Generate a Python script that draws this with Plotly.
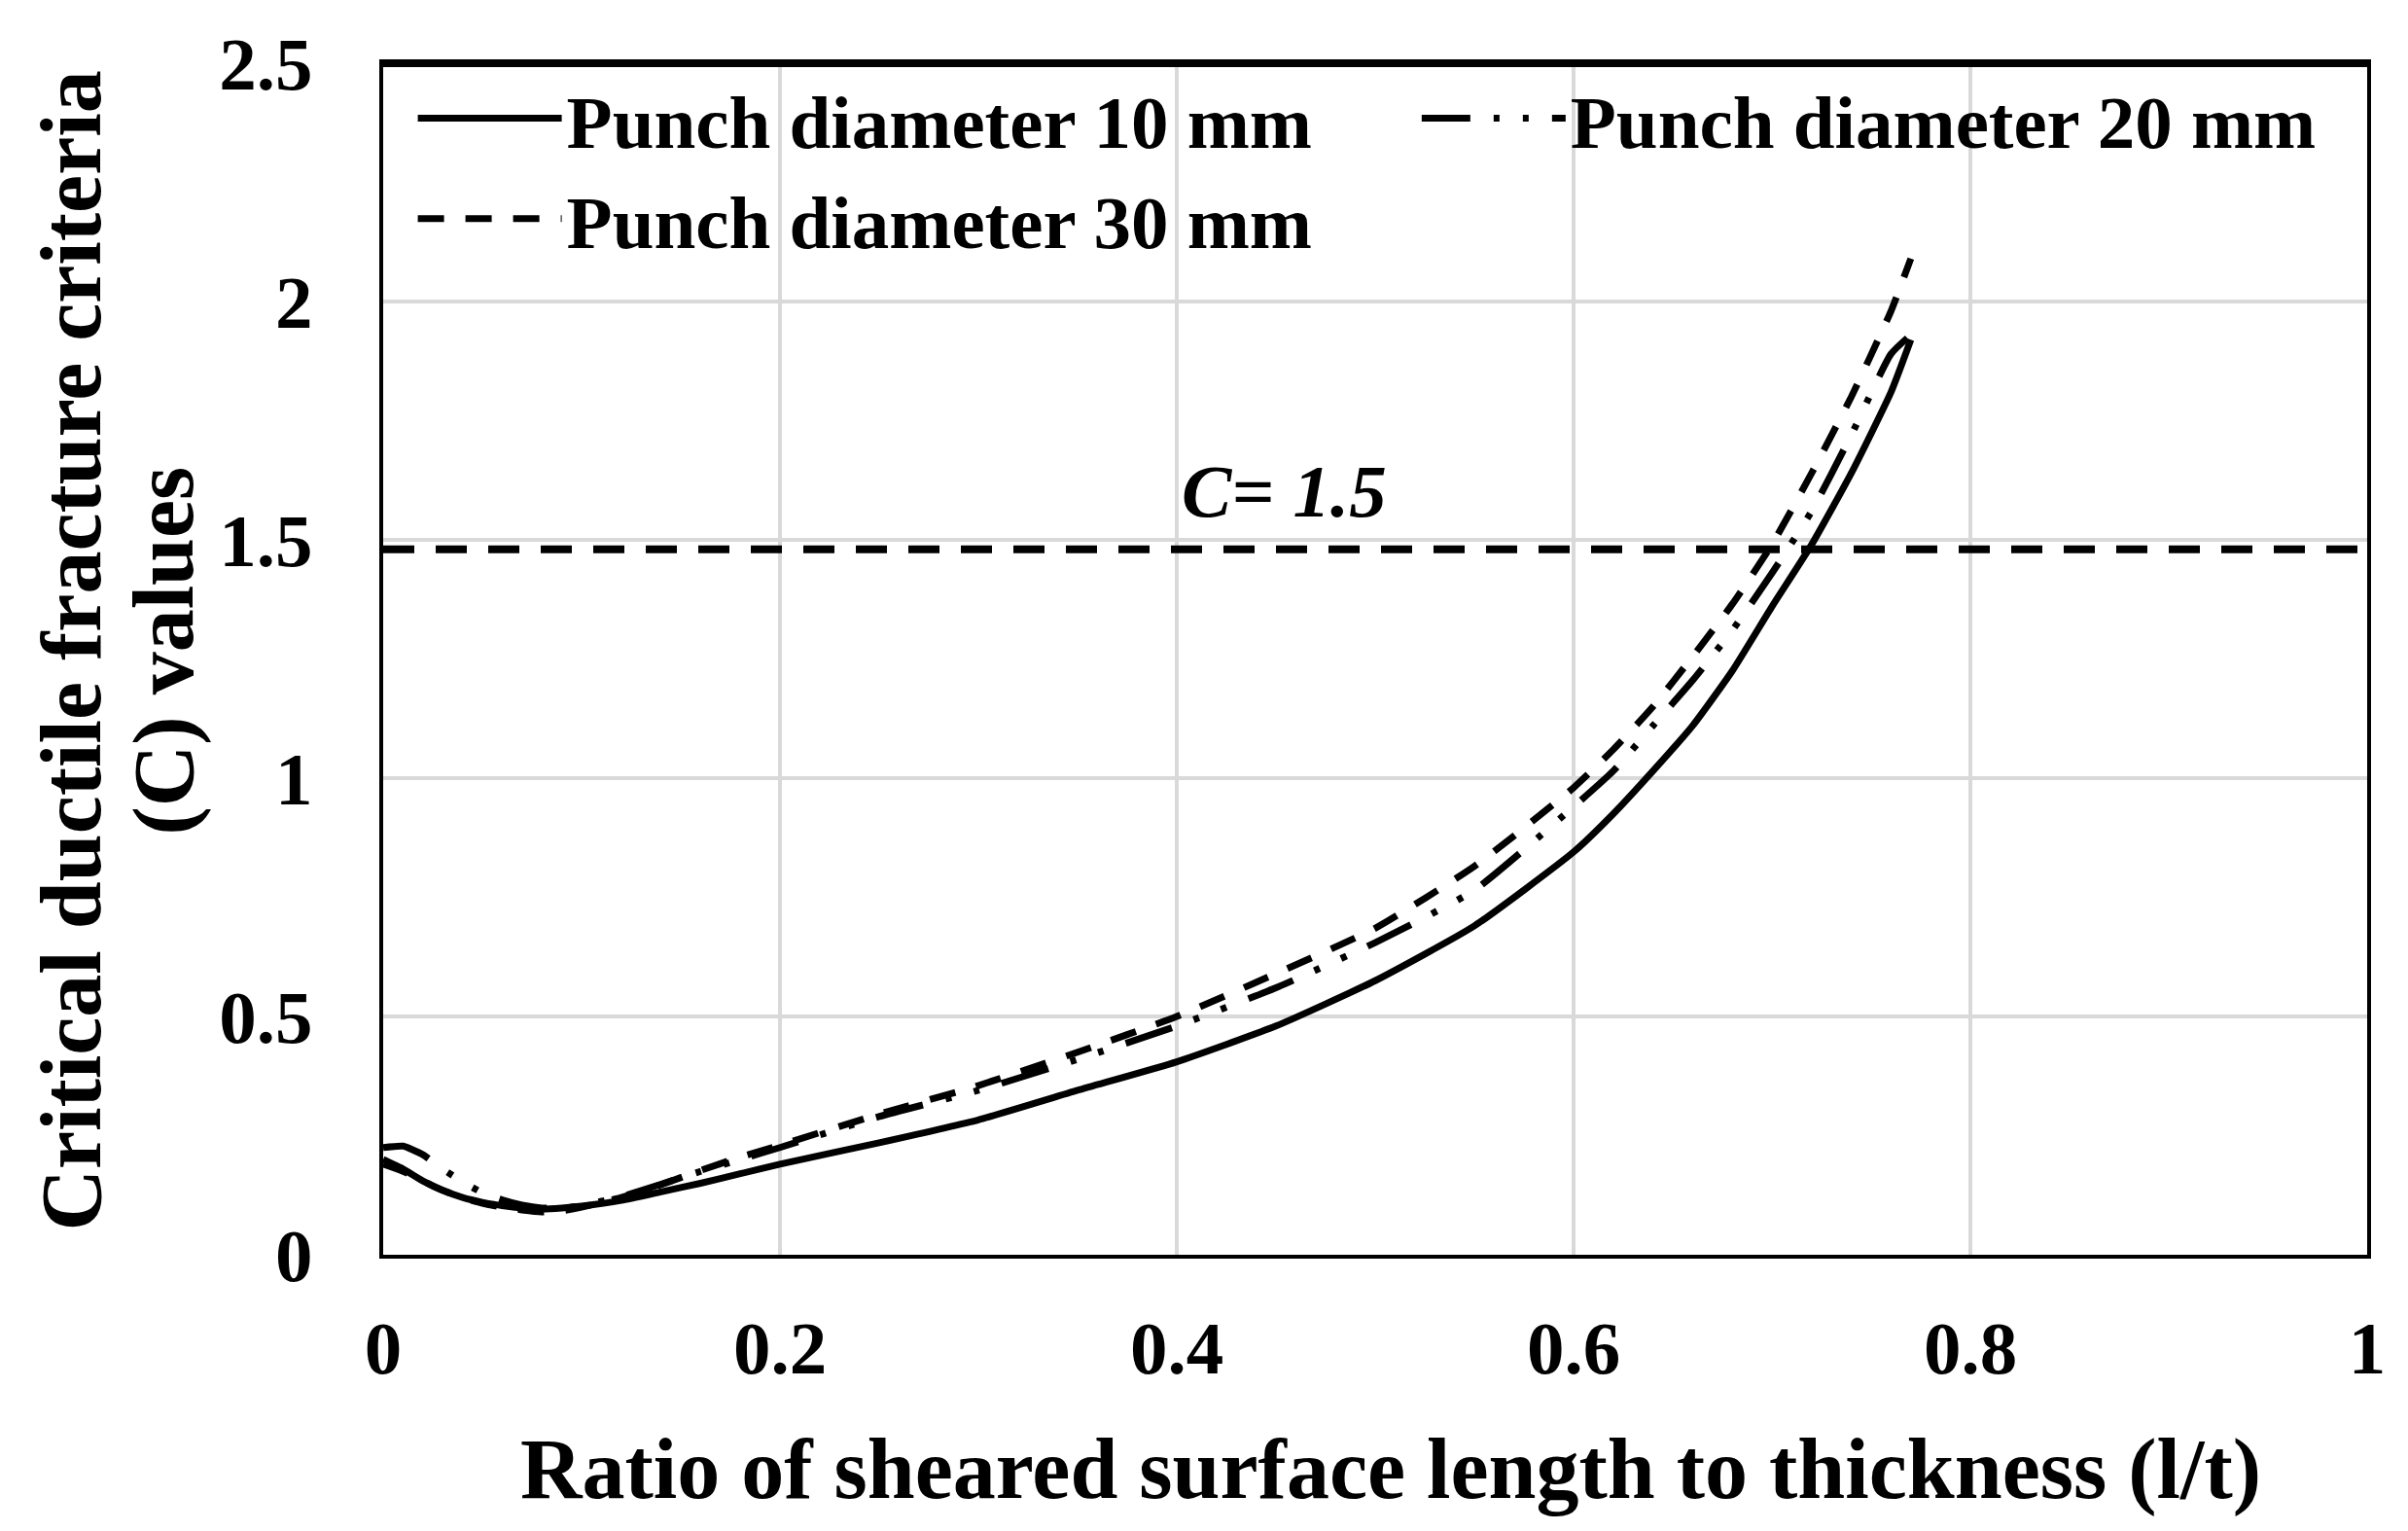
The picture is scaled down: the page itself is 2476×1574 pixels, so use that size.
import plotly.graph_objects as go

# ratio of sheared surface length to thickness (l/t)
lt = [0, 0.01, 0.02, 0.03, 0.04, 0.05, 0.06, 0.07, 0.08, 0.09, 0.1, 0.12, 0.14,
      0.16, 0.18, 0.2, 0.25, 0.3, 0.35, 0.4, 0.45, 0.5, 0.55, 0.6, 0.62, 0.64,
      0.66, 0.68, 0.7, 0.72, 0.74, 0.76, 0.77]

# critical ductile fracture criteria C, per punch diameter
c_10mm = [0.20, 0.18, 0.155, 0.135, 0.12, 0.11, 0.103, 0.098, 0.096, 0.098, 0.102,
          0.114, 0.132, 0.150, 0.170, 0.19, 0.235, 0.283, 0.345, 0.405, 0.48, 0.575,
          0.69, 0.845, 0.925, 1.015, 1.11, 1.225, 1.36, 1.49, 1.64, 1.81, 1.92]
c_20mm = [0.225, 0.228, 0.21, 0.18, 0.153, 0.13, 0.115, 0.104, 0.098, 0.098, 0.103,
          0.122, 0.148, 0.175, 0.2, 0.225, 0.29, 0.345, 0.41, 0.48, 0.56, 0.655,
          0.765, 0.94, 1.015, 1.11, 1.205, 1.31, 1.43, 1.56, 1.72, 1.89, 1.93]
c_30mm = [0.19, 0.175, 0.155, 0.135, 0.12, 0.108, 0.1, 0.094, 0.09, 0.092, 0.1,
          0.12, 0.147, 0.177, 0.205, 0.23, 0.295, 0.355, 0.425, 0.5, 0.59, 0.685,
          0.815, 0.98, 1.06, 1.15, 1.255, 1.365, 1.49, 1.64, 1.8, 1.98, 2.09]

c_limit = 1.48
x_ticks = [0, 0.2, 0.4, 0.6, 0.8, 1]
y_ticks = [0, 0.5, 1, 1.5, 2, 2.5]

FONT = "Liberation Serif"
bold77 = dict(family=FONT, size=77, color="black", weight="bold")
bold88 = dict(family=FONT, size=88, color="black", weight="bold")

fig = go.Figure()

# C = 1.5 threshold line
fig.add_trace(go.Scatter(
    x=[0, 1], y=[c_limit, c_limit], mode="lines",
    line=dict(color="black", width=8, dash="32px,22px"),
    showlegend=False, hoverinfo="skip"
))

fig.add_trace(go.Scatter(
    x=lt, y=c_10mm, mode="lines", name="Punch diameter 10 mm",
    line=dict(color="black", width=7, shape="spline", smoothing=0.5),
    legend="legend"
))
fig.add_trace(go.Scatter(
    x=lt, y=c_30mm, mode="lines", name="Punch diameter 30 mm",
    line=dict(color="black", width=7, dash="27px,22px", shape="spline", smoothing=0.5),
    legend="legend"
))
fig.add_trace(go.Scatter(
    x=lt, y=c_20mm, mode="lines", name="Punch diameter 20 mm",
    line=dict(color="black", width=7, dash="50px,24px,6px,24px,6px,24px",
              shape="spline", smoothing=0.5),
    legend="legend2"
))

legend_style = dict(
    font=bold77, bgcolor="rgba(0,0,0,0)", itemwidth=148, tracegroupgap=0,
    yanchor="top", y=1.0, xanchor="left"
)

fig.update_layout(
    width=2476, height=1574,
    margin=dict(l=386, r=50, t=57, b=292),
    paper_bgcolor="white", plot_bgcolor="white",
    font=bold77,
    legend=dict(x=0.015, **legend_style),
    legend2=dict(x=0.521, **legend_style),
    annotations=[
        dict(text="<i>C= 1.5</i>", x=0.454, y=1.51, xref="x", yref="y",
             xanchor="center", yanchor="bottom", showarrow=False, font=bold77),
        dict(text="Critical ductile fracture criteria", textangle=-90,
             x=0, y=0.5, xref="paper", yref="paper", xshift=-321, yshift=8,
             xanchor="center", yanchor="middle", showarrow=False, font=bold88),
        dict(text="(C) values", textangle=-90,
             x=0, y=0.5, xref="paper", yref="paper", xshift=-226, yshift=8,
             xanchor="center", yanchor="middle", showarrow=False, font=bold88),
        dict(text="Ratio of sheared surface length to thickness (l/t)",
             x=0.5, y=0, xref="paper", yref="paper", xshift=16, yshift=-220,
             xanchor="center", yanchor="middle", showarrow=False, font=bold88),
    ],
    shapes=[
        # heavy top border
        dict(type="line", xref="paper", yref="paper", x0=0, x1=1, y0=1, y1=1,
             line=dict(color="black", width=8)),
        # grey shadow under the bottom axis and left of the left axis
        dict(type="line", xref="paper", yref="y", ysizemode="pixel", yanchor=0,
             x0=0, x1=1, y0=-6, y1=-6, line=dict(color="#bfbfbf", width=6)),
        dict(type="line", yref="paper", xref="x", xsizemode="pixel", xanchor=0,
             y0=0, y1=1, x0=-5, x1=-5, line=dict(color="#bfbfbf", width=4)),
    ],
)

fig.update_xaxes(
    range=[0, 1], tickvals=x_ticks, showgrid=True, gridcolor="#d9d9d9", gridwidth=4,
    zeroline=False, showline=True, linecolor="black", linewidth=4, mirror=True,
    ticks="outside", ticklen=26, tickcolor="rgba(0,0,0,0)", tickfont=bold77
)
fig.update_yaxes(
    range=[0, 2.5], tickvals=y_ticks, showgrid=True, gridcolor="#d9d9d9", gridwidth=4,
    zeroline=False, showline=True, linecolor="black", linewidth=4, mirror=True,
    ticks="outside", ticklen=53, tickcolor="rgba(0,0,0,0)", tickfont=bold77
)

fig.write_html("out.html")
